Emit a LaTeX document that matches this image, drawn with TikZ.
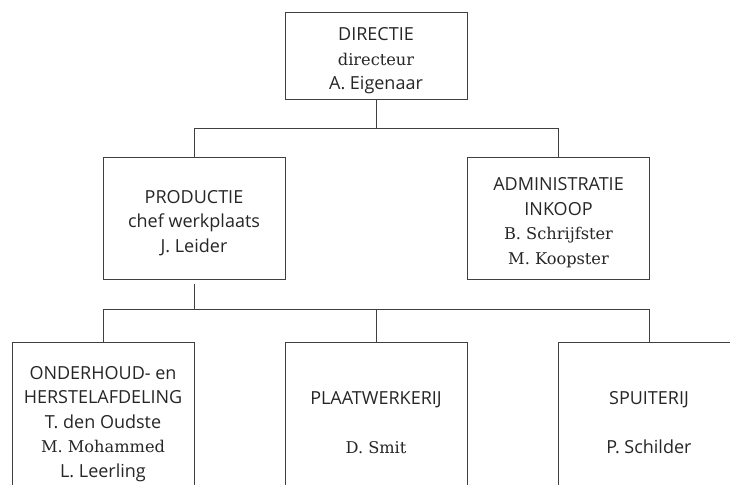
\documentclass[tikz,border=0pt]{standalone}
\usepackage{fontspec}
\setmainfont{Open Sans}
\newfontfamily\srf{DejaVu Serif}
\newcommand\sline[1]{{\srf\fontsize{16.2}{24.4}\selectfont #1}}
\begin{document}
\begin{tikzpicture}[x=1pt,y=-1pt,
  box/.style={draw=black!75,line width=0.9pt,minimum width=182pt,inner sep=0pt,anchor=north},
  txt/.style={align=center,anchor=base,inner sep=0pt,font=\fontsize{18}{24.4}\selectfont,text=black!85},
  conn/.style={draw=black!75,line width=0.9pt}]
\clip (0,0) rectangle (730,484);
\fill[white] (0,0) rectangle (730,484);
% boxes
\node[box,minimum height=87pt] (dir) at (376,12) {};
\node[box,minimum height=122pt] (prod) at (194,157) {};
\node[box,minimum height=122pt] (adm) at (558.5,157) {};
\node[box,minimum height=180pt] (ond) at (103,342) {};
\node[box,minimum height=180pt] (plaat) at (376,342) {};
\node[box,minimum height=180pt] (spuit) at (649,342) {};
% texts (base = last line)
\node[txt] (tdir) at (376,89.5) {DIRECTIE\\\sline{directeur}\\A. Eigenaar};
\node[txt] (tprod) at (194,252) {PRODUCTIE\\chef werkplaats\\J. Leider};
\node[txt] (tadm) at (558.5,264) {ADMINISTRATIE\\INKOOP\\\sline{B. Schrijfster}\\\sline{M. Koopster}};
\node[txt] (tond) at (103,477) {ONDERHOUD- en\\HERSTELAFDELING\\T. den Oudste\\\sline{M. Mohammed}\\L. Leerling};
\node[txt] (tplaat) at (376,453) {PLAATWERKERIJ\\[24.4pt]\sline{D. Smit}};
\node[txt] (tspuit) at (649,453) {SPUITERIJ\\[24.4pt]P. Schilder};
% connectors
\coordinate (j1) at (376,128);
\coordinate (j2) at (194,309);
\draw[conn] (dir.south) -- (j1) -| (prod.north);
\draw[conn] (j1) -| (adm.north);
\draw[conn] ([yshift=-4pt]prod.south) -- (j2) -| (ond.north);
\draw[conn] (j2) -| (plaat.north);
\draw[conn] (j2) -| (spuit.north);
\end{tikzpicture}
\end{document}
